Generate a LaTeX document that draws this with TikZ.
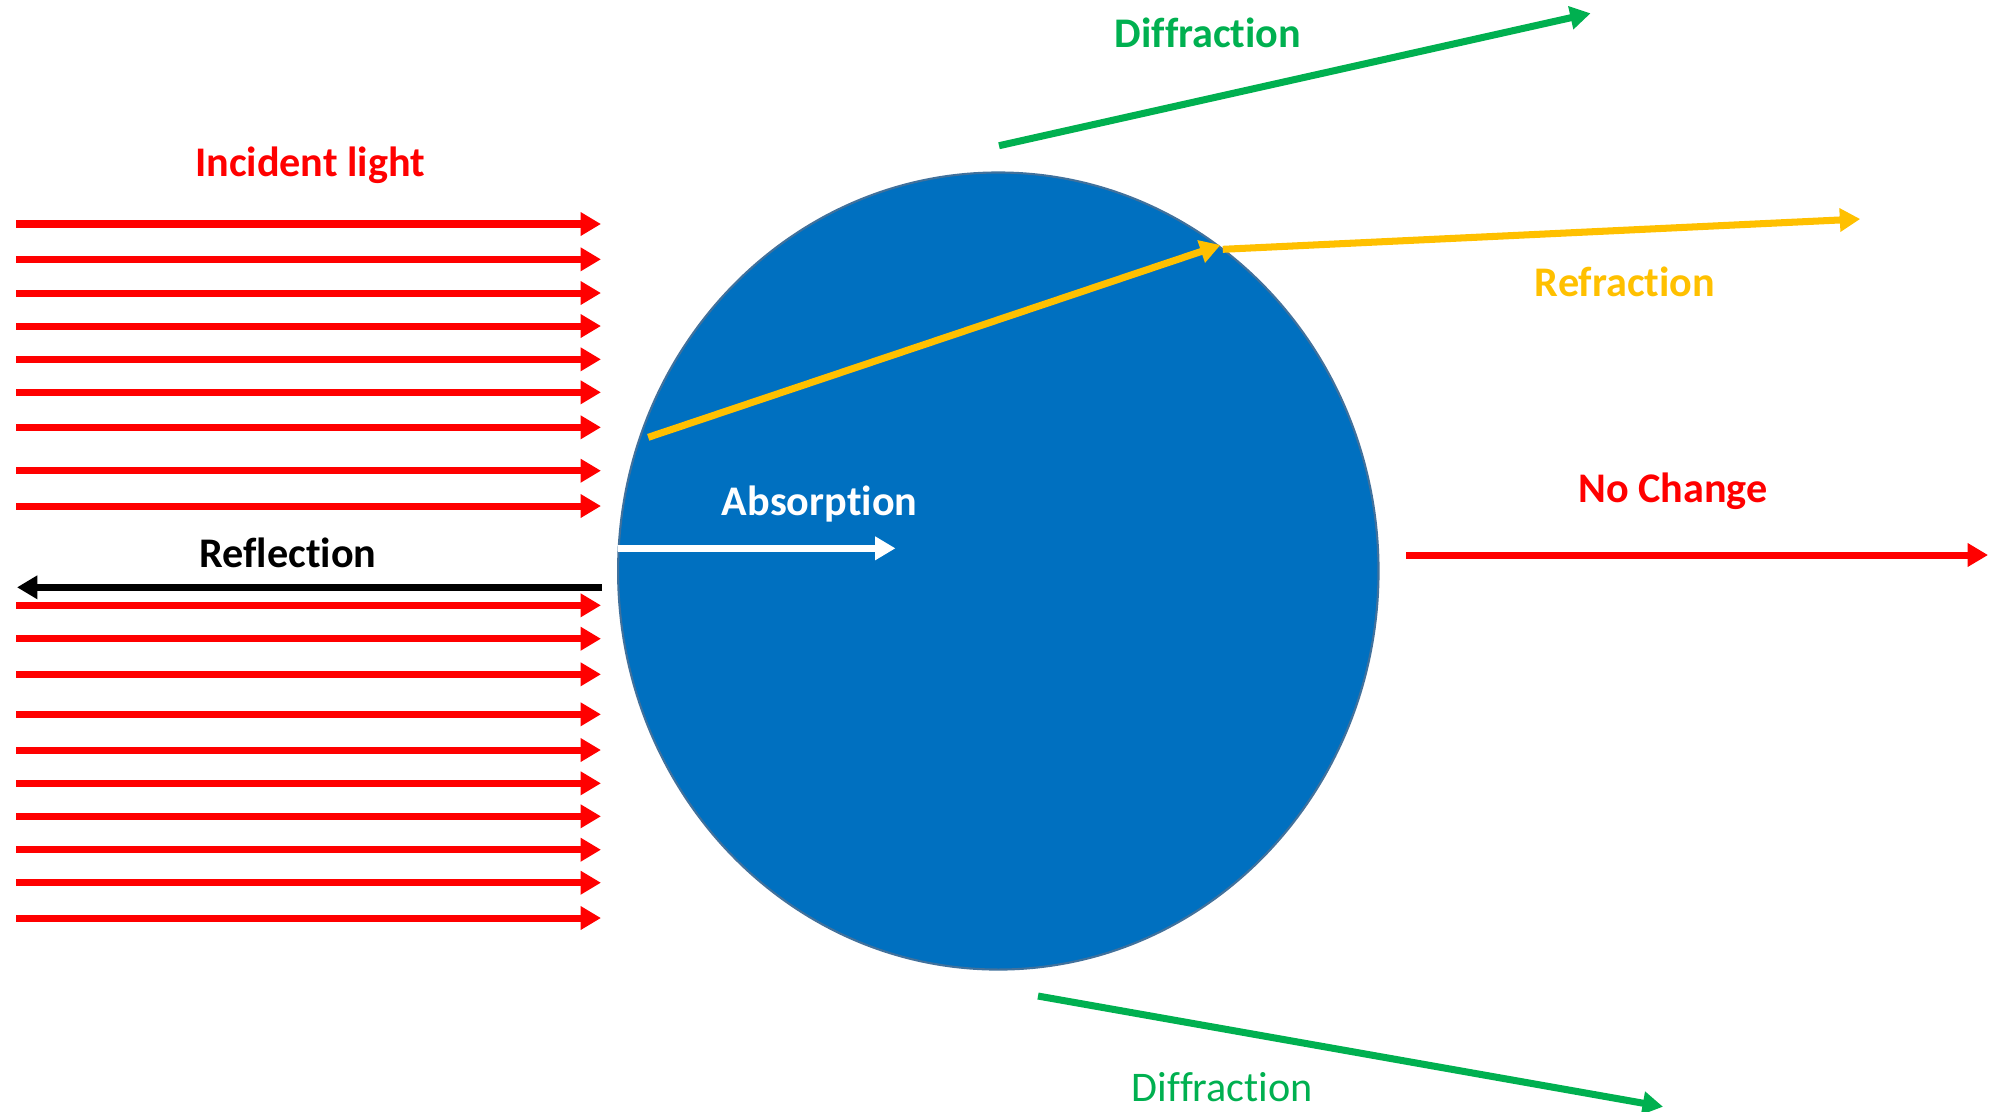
\documentclass[tikz,border=0pt]{standalone}
\usepackage{fontspec}
\setmainfont{Carlito}[RawFeature={-liga;-clig;-calt;-dlig}]
\usetikzlibrary{arrows.meta,shapes.geometric}
\definecolor{cred}{HTML}{FF0000}
\definecolor{cgreen}{HTML}{00B050}
\definecolor{cyellow}{HTML}{FFC000}
\definecolor{cblue}{HTML}{0070C0}
\definecolor{cedge}{HTML}{41719C}
\begin{document}
\begin{tikzpicture}[x=0.01cm,y=-0.01cm,
  ray/.style={line width=2pt,-{Triangle[length=5.8pt,width=6.4pt]}},
  lbl/.style={anchor=base,inner sep=0pt,font=\fontsize{12}{14}\selectfont\bfseries},
  lblreg/.style={anchor=base,inner sep=0pt,font=\fontsize{12}{14}\selectfont},
]
\useasboundingbox (0,0) rectangle (1989,1111);
% particle
\node[ellipse,fill=cblue,draw=cedge,line width=0.6pt,inner sep=0pt,
      minimum width=7.6cm,minimum height=7.966cm] (drop) at (998.3,571) {};
% incident rays
\foreach \yy [count=\i] in {224,259.3,293,326,359.3,392.3,427.3,470.7,506,
                           605.3,638.7,674.3,714.3,750,783.3,816.3,849.7,882.7,918}{
  \coordinate (ins\i) at (16,\yy);
  \coordinate (ine\i) at (601,\yy);
  \draw[ray,cred] (ins\i) -- (ine\i);
}
\node[lbl,text=cred] (tinc) at (310,176) {Incident light};
% reflection
\coordinate (rfs) at (602,587.3);
\coordinate (rfe) at (17,587.3);
\draw[ray,black] (rfs) -- (rfe);
\node[lbl,text=black] (trefl) at (288,567.7) {Reflection};
% absorption
\coordinate (abs) at (617.9,548.3);
\coordinate (abe) at (895.5,548.3);
\draw[ray,white] (abs) -- (abe);
\node[lbl,text=white] (tabs) at (819.6,515) {Absorption};
% refraction
\coordinate (rrs) at (648.2,437.3);
\coordinate (rrm) at (1220.5,245);
\coordinate (rro) at (1222.8,249.3);
\coordinate (rre) at (1860.2,219);
\draw[ray,cyellow] (rrs) -- (rrm);
\draw[ray,cyellow] (rro) -- (rre);
\node[lbl,text=cyellow] (trefr) at (1625,296.7) {Refraction};
% no change
\coordinate (ncs) at (1406.3,555);
\coordinate (nce) at (1988,555);
\draw[ray,cred] (ncs) -- (nce);
\node[lbl,text=cred] (tnc) at (1673,502.7) {No Change};
% diffraction
\coordinate (dts) at (999,145.7);
\coordinate (dte) at (1590.6,13.3);
\draw[ray,cgreen] (dts) -- (dte);
\node[lbl,text=cgreen] (tdt) at (1208,47.7) {Diffraction};
\coordinate (dbs) at (1038,996);
\coordinate (dbe) at (1663,1106.7);
\draw[ray,cgreen] (dbs) -- (dbe);
\node[lblreg,text=cgreen] (tdb) at (1222.5,1101.7) {Diffraction};
\end{tikzpicture}
\end{document}
